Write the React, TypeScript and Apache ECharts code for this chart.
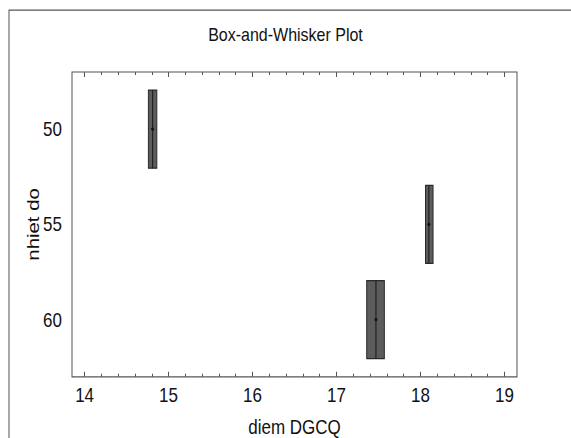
import React, { useEffect, useRef } from "react";
import * as echarts from "echarts";

// Data
const categories = [50, 55, 60]; // nhiet do
const lowWhisker = [14.76, 18.06, 17.36];
const q1Values = [14.76, 18.06, 17.36];
const medianValues = [14.81, 18.1, 17.47];
const q3Values = [14.86, 18.15, 17.57];
const highWhisker = [14.86, 18.15, 17.57];
const meanValues = [14.81, 18.1, 17.47];

const xMajorTicks = [14, 15, 16, 17, 18, 19];
const yTickLabels = [50, 55, 60];
const xMin = 13.85;
const xMax = 19.15;
const yMin = 47;
const yMax = 63;

const xMinorTicks: number[] = [];
for (let i = 0; i < 25; i++) {
  const v = Math.round((14 + i * 0.2) * 10) / 10;
  if (!xMajorTicks.includes(v)) xMinorTicks.push(v);
}

const FONT = "'Liberation Sans', Arial, Helvetica, sans-serif";
const TEXT = "#111111";
const BOX_HALF = 2.05;
const STRETCH = 1.2; // the reference picture is stretched vertically
const W = 571;
const H = 438;

export default function App() {
  const ref = useRef<HTMLDivElement>(null);
  useEffect(() => {
    if (!ref.current) return;
    const chart = echarts.init(ref.current, undefined, { renderer: "svg" });
    const data = categories.map((c, i) => [
      c,
      lowWhisker[i],
      q1Values[i],
      medianValues[i],
      q3Values[i],
      highWhisker[i],
      meanValues[i],
    ]);
    const tickAxis = (pos: "top" | "bottom", values: number[], len: number, labels: boolean, extra: any = {}) => ({
      type: "value",
      position: pos,
      min: xMin,
      max: xMax,
      axisLine: { show: false },
      splitLine: { show: false },
      axisTick: {
        show: true,
        inside: true,
        length: len,
        customValues: values,
        lineStyle: { color: "#555", width: 1 },
      },
      axisLabel: labels
        ? {
            show: true,
            customValues: xMajorTicks,
            fontFamily: FONT,
            fontSize: 17,
            color: TEXT,
            margin: 7,
          }
        : { show: false },
      ...extra,
    });
    chart.setOption({
      animation: false,
      backgroundColor: "#ffffff",
      title: {
        text: "Box-and-Whisker Plot",
        left: "center",
        top: 16,
        textStyle: { fontFamily: FONT, fontSize: 16, fontWeight: "normal", color: TEXT },
      },
      graphic: [
        {
          type: "rect",
          shape: { x: 9, y: 8.5, width: 700, height: 600 },
          style: { fill: "none", stroke: "#555", lineWidth: 1 },
          silent: true,
          z: -10,
        },
      ],
      grid: {
        left: 72,
        top: 60,
        right: 54,
        bottom: 51,
        outerBoundsMode: "none",
        containLabel: false,
        show: true,
        borderColor: "#555",
        borderWidth: 1,
        backgroundColor: "transparent",
      },
      xAxis: [
        tickAxis("bottom", xMajorTicks, 4.2, true, {
          name: "diem DGCQ",
          nameLocation: "middle",
          nameGap: 33,
          nameMoveOverlap: false,
          nameTextStyle: { fontFamily: FONT, fontSize: 17, color: TEXT },
        }),
        tickAxis("bottom", xMinorTicks, 2.5, false),
        tickAxis("top", xMajorTicks, 4.2, false),
        tickAxis("top", xMinorTicks, 2.5, false),
      ],
      yAxis: {
        type: "value",
        inverse: true,
        min: yMin,
        max: yMax,
        name: "nhiet do",
        nameLocation: "middle",
        nameGap: 30,
        nameMoveOverlap: false,
        nameTextStyle: { fontFamily: FONT, fontSize: 17, color: TEXT },
        axisLine: { show: false },
        axisTick: { show: false },
        splitLine: { show: false },
        axisLabel: {
          customValues: yTickLabels,
          fontFamily: FONT,
          fontSize: 17,
          color: TEXT,
          margin: 10,
        },
      },
      series: [
        {
          type: "custom",
          xAxisIndex: 0,
          yAxisIndex: 0,
          clip: true,
          encode: { x: [1, 2, 3, 4, 5, 6], y: 0 },
          data,
          renderItem: (params: any, api: any) => {
            const y = api.value(0);
            const lo = api.value(1);
            const q1 = api.value(2);
            const med = api.value(3);
            const q3 = api.value(4);
            const hi = api.value(5);
            const mean = api.value(6);
            const a = api.coord([q1, y - BOX_HALF]);
            const b = api.coord([q3, y + BOX_HALF]);
            const m1 = api.coord([med, y - BOX_HALF]);
            const m2 = api.coord([med, y + BOX_HALF]);
            const c = api.coord([mean, y]);
            const wl = api.coord([lo, y]);
            const wh = api.coord([hi, y]);
            const x0 = Math.min(a[0], b[0]);
            const y0 = Math.min(a[1], b[1]);
            const w = Math.abs(b[0] - a[0]);
            const h = Math.abs(b[1] - a[1]);
            return {
              type: "group",
              children: [
                {
                  type: "line",
                  shape: { x1: wl[0], y1: wl[1], x2: a[0], y2: wl[1] },
                  style: { stroke: "#333", lineWidth: 1 },
                },
                {
                  type: "line",
                  shape: { x1: b[0], y1: wh[1], x2: wh[0], y2: wh[1] },
                  style: { stroke: "#333", lineWidth: 1 },
                },
                {
                  type: "rect",
                  shape: { x: x0, y: y0, width: w, height: h },
                  style: { fill: "#5c5c5c", stroke: "#2a2a2a", lineWidth: 1 },
                },
                {
                  type: "line",
                  shape: { x1: m1[0], y1: m1[1], x2: m2[0], y2: m2[1] },
                  style: { stroke: "#222", lineWidth: 1.2 },
                },
                {
                  type: "line",
                  shape: { x1: c[0] - 1.5, y1: c[1], x2: c[0] + 1.5, y2: c[1] },
                  style: { stroke: "#111", lineWidth: 1.3 },
                },
                {
                  type: "line",
                  shape: { x1: c[0], y1: c[1] - 1.3, x2: c[0], y2: c[1] + 1.3 },
                  style: { stroke: "#111", lineWidth: 1.5 },
                },
              ],
            };
          },
        },
      ],
    });
    return () => chart.dispose();
  }, []);
  return (
    <div
      style={{ position: "absolute", left: 0, top: 0, width: W, height: H, overflow: "hidden", background: "#fff" }}
    >
      <div
        ref={ref}
        style={{
          width: W,
          height: H / STRETCH,
          transform: `scaleY(${STRETCH})`,
          transformOrigin: "0 0",
        }}
      />
    </div>
  );
}
